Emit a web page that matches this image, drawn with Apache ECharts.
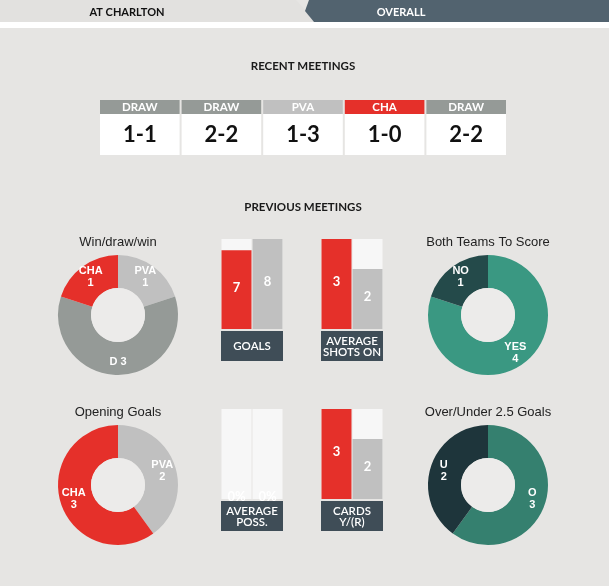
<!DOCTYPE html>
<html>
<head>
<meta charset="UTF-8">
<title>Head to head</title>
<style>
  * { margin: 0; padding: 0; }
  html, body { width: 609px; height: 586px; background: #e6e5e3; overflow: hidden; }
  #chart { width: 609px; height: 586px; }
</style>
</head>
<body>
<div id="chart"></div>
<script src="https://cdn.jsdelivr.net/npm/echarts@6/dist/echarts.min.js"></script>
<script>
// recent meetings
var meetingResults = ['DRAW', 'DRAW', 'PVA', 'CHA', 'DRAW'];
var meetingScores = ['1-1', '2-2', '1-3', '1-0', '2-2'];

// donuts
var wdwNames = ['PVA', 'D', 'CHA'];
var wdwValues = [1, 3, 1];
var bttsNames = ['YES', 'NO'];
var bttsValues = [4, 1];
var openingNames = ['PVA', 'CHA'];
var openingValues = [2, 3];
var ouNames = ['O', 'U'];
var ouValues = [3, 2];

// bar pairs (CHA, PVA)
var barTeams = ['CHA', 'PVA'];
var goals = [7, 8];
var shotsOn = [3, 2];
var possession = [0, 0];
var cards = [3, 2];

var RED = '#e5302a', LGRAY = '#c0c0c0', MGRAY = '#959a97';
var resultColors = { DRAW: MGRAY, PVA: LGRAY, CHA: RED };
var teamColors = { CHA: RED, PVA: LGRAY };
var HEAD = 'Lato, "Open Sans", sans-serif';
var ARIAL = '"Liberation Sans", Arial, sans-serif';

var chart = echarts.init(document.getElementById('chart'));

// bar panels: [left, top, values, max, suffix, caption]
var panels = [
    [221, 239, goals, 8, '', 'GOALS'],
    [321, 239, shotsOn, 3, '', 'AVERAGE\nSHOTS ON'],
    [221, 409, possession, 1, '%', 'AVERAGE\nPOSS.'],
    [321, 409, cards, 3, '', 'CARDS\nY/(R)']
];

var grids = [{ left: 99, top: 100, width: 408, height: 55 }];
var xAxes = [{ gridIndex: 0, type: 'category', data: meetingScores, show: false }];
var yAxes = [{ gridIndex: 0, type: 'value', min: 0, max: 1, show: false }];
var series = [{
    type: 'custom',
    xAxisIndex: 0, yAxisIndex: 0,
    data: meetingResults.map(function (r, i) { return [i, 1]; }),
    renderItem: function (params, api) {
        var i = api.value(0);
        var cs = params.coordSys;
        var cx = api.coord([i, 0])[0];
        var w = api.size([1, 0])[0] - 2;
        var res = meetingResults[i];
        return {
            type: 'group',
            children: [
                { type: 'rect', shape: { x: cx - w / 2, y: cs.y, width: w, height: 14 }, style: { fill: resultColors[res] } },
                { type: 'text', style: { text: res, x: cx, y: cs.y + 7.5, align: 'center', verticalAlign: 'middle', fill: '#fff', font: 'bold 11.5px ' + HEAD } },
                { type: 'rect', shape: { x: cx - w / 2, y: cs.y + 14, width: w, height: cs.height - 14 }, style: { fill: '#fff' } },
                { type: 'text', style: { text: meetingScores[i], x: cx, y: cs.y + 35, align: 'center', verticalAlign: 'middle', fill: '#111', font: 'bold 22px ' + HEAD } }
            ]
        };
    }
}];

var graphics = [
    { type: 'polygon', shape: { points: [[0, 0], [296, 0], [306, 11], [313, 22], [0, 22]] }, style: { fill: '#e2e1df' } },
    { type: 'polygon', shape: { points: [[309, 0], [609, 0], [609, 22], [314, 22], [305, 11]] }, style: { fill: '#52636f' } },
    { type: 'rect', shape: { x: 0, y: 22, width: 609, height: 6 }, style: { fill: '#fff' } },
    { type: 'text', style: { text: 'AT CHARLTON', x: 127, y: 12, align: 'center', verticalAlign: 'middle', fill: '#111', font: 'bold 11px ' + HEAD } },
    { type: 'text', style: { text: 'OVERALL', x: 401, y: 12, align: 'center', verticalAlign: 'middle', fill: '#fff', font: 'bold 11px ' + HEAD } },
    { type: 'text', style: { text: 'RECENT MEETINGS', x: 303, y: 66, align: 'center', verticalAlign: 'middle', fill: '#1a1a1a', font: 'bold 11.5px ' + HEAD } },
    { type: 'text', style: { text: 'PREVIOUS MEETINGS', x: 303, y: 207, align: 'center', verticalAlign: 'middle', fill: '#1a1a1a', font: 'bold 11.5px ' + HEAD } }
];

panels.forEach(function (p, k) {
    var gi = k + 1;
    grids.push({ left: p[0], top: p[1], width: 62, height: 90 });
    xAxes.push({ gridIndex: gi, type: 'category', data: barTeams, show: false });
    yAxes.push({ gridIndex: gi, type: 'value', min: 0, max: p[3], show: false });
    series.push({
        type: 'bar',
        xAxisIndex: gi, yAxisIndex: gi,
        barWidth: 30,
        showBackground: true,
        backgroundStyle: { color: '#f7f7f7' },
        data: p[2].map(function (v, j) { return { value: v, itemStyle: { color: teamColors[barTeams[j]] } }; }),
        label: {
            show: true, position: 'inside', color: '#fff',
            fontFamily: HEAD, fontWeight: 'bold', fontSize: 13,
            offset: [0, -2],
            formatter: '{c}' + p[4]
        }
    });
    graphics.push({ type: 'rect', z: 100, shape: { x: p[0], y: p[1] + 92, width: 62, height: 30 }, style: { fill: '#3f4d57' } });
    graphics.push({ type: 'text', z: 101, style: { text: p[5], x: p[0] + 31, y: p[1] + 107.5, align: 'center', verticalAlign: 'middle', fill: '#fff', font: '600 11.5px ' + HEAD, lineHeight: 11 } });
});

// donuts: [cx, cy, title, names, values, colors]
var donuts = [
    [118, 315, 'Win/draw/win', wdwNames, wdwValues, [LGRAY, MGRAY, RED]],
    [488, 315, 'Both Teams To Score', bttsNames, bttsValues, ['#3a9882', '#244a4a']],
    [118, 485, 'Opening Goals', openingNames, openingValues, [LGRAY, RED]],
    [488, 485, 'Over/Under 2.5 Goals', ouNames, ouValues, ['#35806f', '#1e353b']]
];

donuts.forEach(function (d) {
    series.push({
        type: 'pie',
        center: [d[0], d[1]],
        radius: [27, 60],
        startAngle: 90,
        clockwise: true,
        silent: true,
        avoidLabelOverlap: false,
        labelLine: { show: false },
        label: {
            show: true, position: 'inside', color: '#fff',
            fontFamily: ARIAL, fontWeight: 'bold', fontSize: 11, lineHeight: 12,
            formatter: '{b}\n{c}'
        },
        data: d[3].map(function (n, j) {
            var item = { name: n, value: d[4][j], itemStyle: { color: d[5][j] } };
            if (n === 'D') item.label = { formatter: '{b} {c}' };
            return item;
        })
    });
    series.push({
        type: 'pie',
        center: [d[0], d[1]],
        radius: [0, 27],
        silent: true,
        label: { show: false },
        data: [{ value: 1, itemStyle: { color: '#ecebea' } }]
    });
    graphics.push({ type: 'text', style: { text: d[2], x: d[0], y: d[1] - 73, align: 'center', verticalAlign: 'middle', fill: '#222', font: '13px ' + ARIAL } });
});

chart.setOption({
    backgroundColor: '#e6e5e3',
    animation: false,
    grid: grids,
    xAxis: xAxes,
    yAxis: yAxes,
    series: series,
    graphic: { elements: graphics }
});
</script>
</body>
</html>
